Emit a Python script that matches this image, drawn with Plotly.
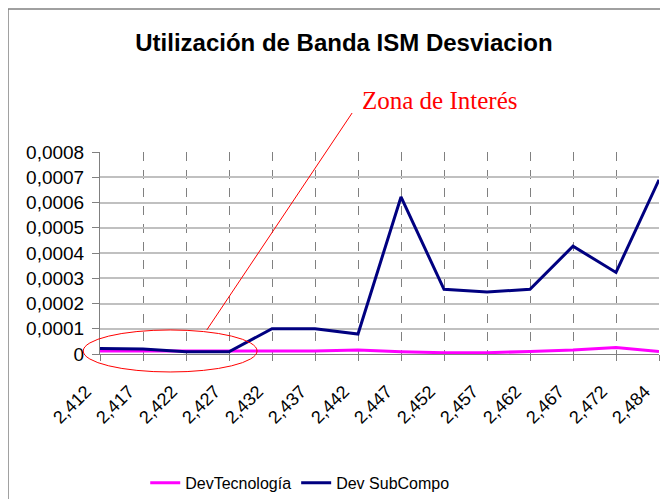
import plotly.graph_objects as go

# frecuencias (GHz) con coma decimal
canales = ['2,412', '2,417', '2,422', '2,427', '2,432', '2,437', '2,442',
           '2,447', '2,452', '2,457', '2,462', '2,467', '2,472', '2,484']

dev_tecnologia = [0.000012, 0.000012, 0.000012, 0.000012, 0.000012, 0.000012, 0.000016,
                  0.000009, 0.000005, 0.000005, 0.000010, 0.000016, 0.000026, 0.000010]

dev_subcompo = [0.000022, 0.000020, 0.000009, 0.000009, 0.000100, 0.000100, 0.000079,
                0.000622, 0.000256, 0.000246, 0.000256, 0.000427, 0.000323, 0.000690]

y_ticks = [0, 0.0001, 0.0002, 0.0003, 0.0004, 0.0005, 0.0006, 0.0007, 0.0008]
y_labels = ['0', '0,0001', '0,0002', '0,0003', '0,0004', '0,0005', '0,0006', '0,0007', '0,0008']

font = 'Liberation Sans, Arial, sans-serif'

fig = go.Figure()
fig.add_trace(go.Scatter(x=canales, y=dev_tecnologia, mode='lines', name='DevTecnología',
                         line=dict(color='#ff00ff', width=3)))
fig.add_trace(go.Scatter(x=canales, y=dev_subcompo, mode='lines', name='Dev SubCompo',
                         line=dict(color='#000080', width=3)))

# la página tiene 8px de margen, así que la figura es un poco más pequeña
fig.update_layout(
    width=660, height=491,
    margin=dict(l=92, r=9, t=144, b=145),
    paper_bgcolor='white', plot_bgcolor='white',
    font=dict(family=font, color='black'),
    title=dict(text='<b>Utilización de Banda ISM Desviacion</b>', x=0.509, y=0.929,
               xref='container', yref='container', xanchor='center', yanchor='middle',
               font=dict(size=24, family=font)),
    showlegend=True,
    legend=dict(orientation='h', x=0.442, y=0.033, xref='container', yref='container',
                xanchor='center', yanchor='middle',
                font=dict(size=16), itemwidth=30, tracegroupgap=0),
    xaxis=dict(type='category', range=[0, 13], showgrid=True, gridcolor='#808080',
               griddash='dash', gridwidth=1, tickangle=-45, tickfont=dict(size=18),
               ticks='outside', ticklen=6, tickcolor='#808080', automargin=False,
               ticklabelstandoff=13, ticklabelshift=-14,
               showline=True, linecolor='#808080', zeroline=False),
    yaxis=dict(range=[0, 0.0008], tickvals=y_ticks, ticktext=y_labels,
               tickfont=dict(size=19), showgrid=True, gridcolor='#c0c0c0', gridwidth=1.5,
               ticks='outside', ticklen=7, tickcolor='#808080', automargin=False,
               ticklabelstandoff=4,
               showline=True, linecolor='#808080', zeroline=False),
)

# marco del gráfico
fig.add_shape(type='line', xref='paper', yref='paper', x0=-0.1646, x1=-0.1646, y0=-1.2, y1=1.708,
              line=dict(color='#808080', width=1.5))
fig.add_shape(type='line', xref='paper', yref='paper', x0=-0.1646, x1=1.1, y0=1.708, y1=1.708,
              line=dict(color='#808080', width=1.5))

# zona de interés
fig.add_shape(type='circle', xref='paper', yref='paper', x0=-0.030, x1=0.281, y0=-0.089, y1=0.119,
              line=dict(color='#ff0000', width=1))
fig.add_shape(type='line', xref='paper', yref='paper', x0=0.191, y0=0.119, x1=0.451, y1=1.193,
              line=dict(color='#ff0000', width=1))
fig.add_annotation(text='Zona de Interés', xref='paper', yref='paper', x=0.608, y=1.257,
                   showarrow=False, xanchor='center', yanchor='middle',
                   font=dict(family='Liberation Serif, Times New Roman, serif', size=25, color='#ff0000'))

fig.write_html('out.html')
